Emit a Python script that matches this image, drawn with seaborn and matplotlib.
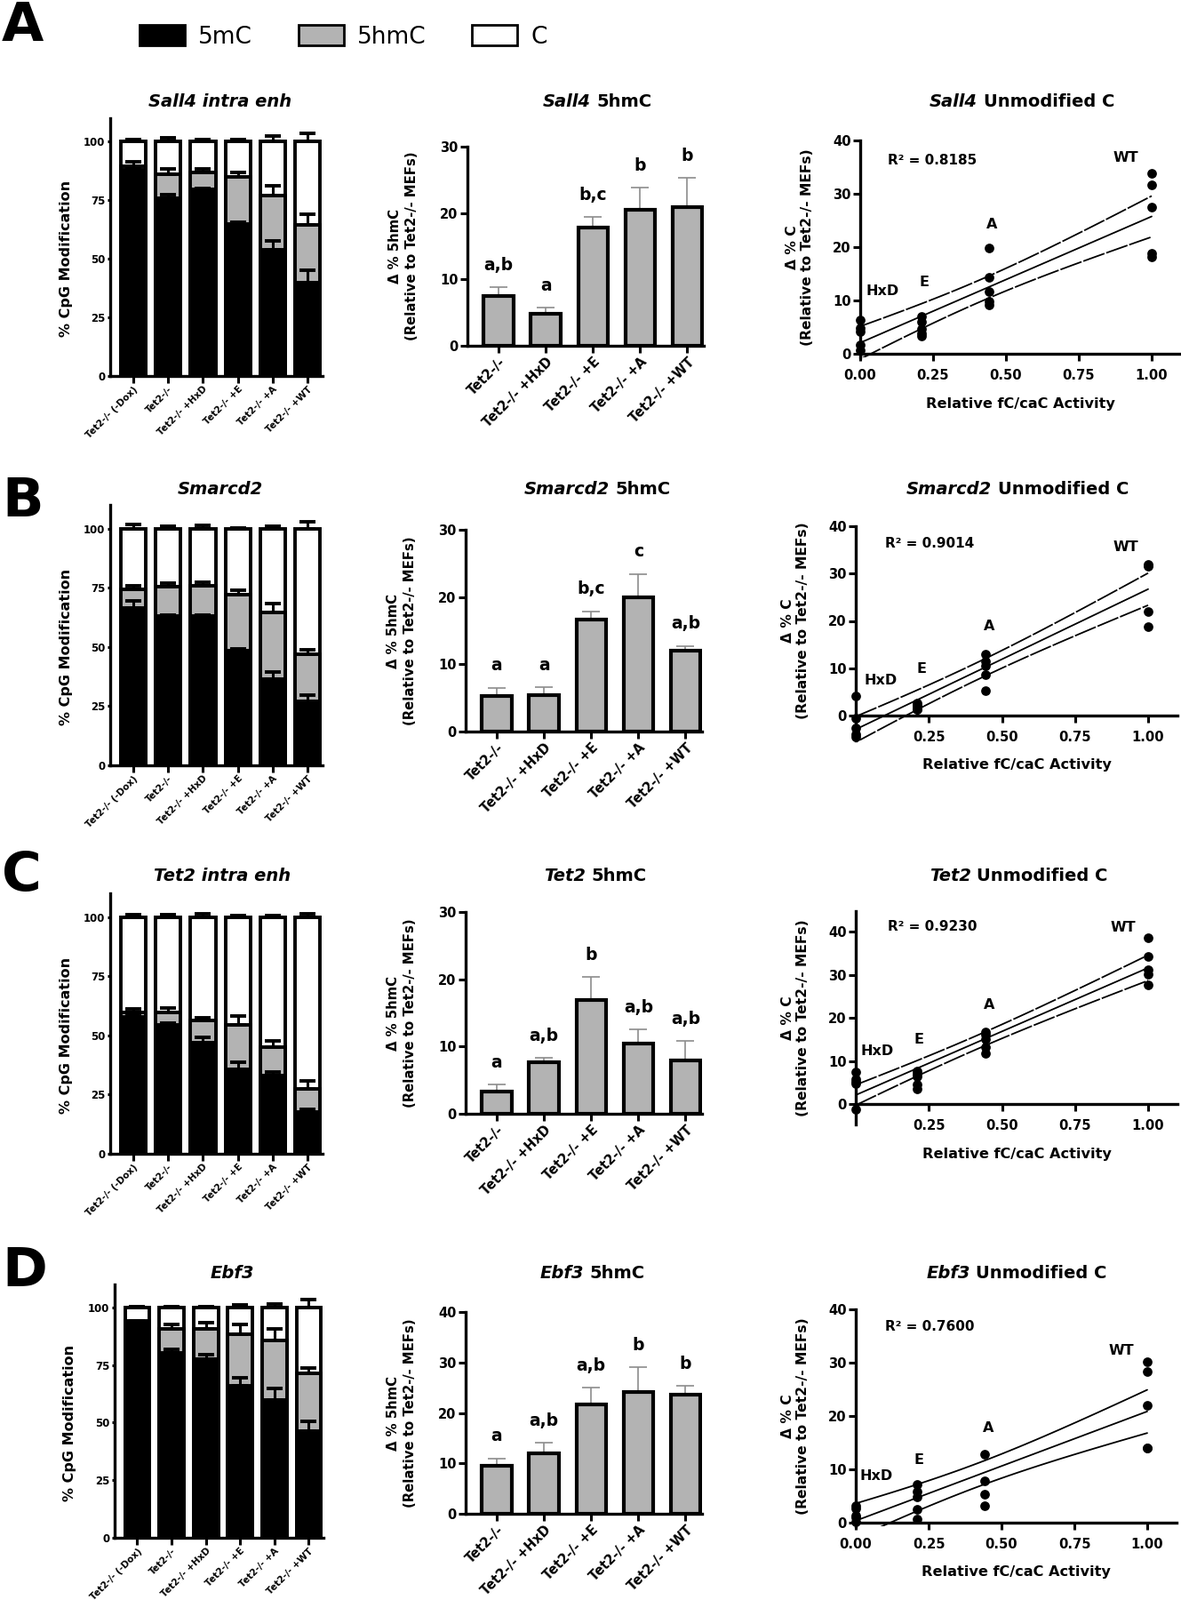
import numpy as np
import pandas as pd
import seaborn as sns
import matplotlib
matplotlib.use("Agg")
from matplotlib import pyplot as plt
from matplotlib.patches import Patch

sns.set_style("ticks")
plt.rcParams['font.family'] = ['DejaVu Sans']
plt.rcParams['font.weight'] = 'bold'
plt.rcParams['axes.linewidth'] = 2.4
plt.rcParams['xtick.major.width'] = 2.2
plt.rcParams['ytick.major.width'] = 2.2
for key in ('text.color', 'axes.labelcolor', 'axes.edgecolor', 'xtick.color', 'ytick.color'):
    plt.rcParams[key] = 'black'

W, H = 1329, 1800
GRAY = '#b3b3b3'

# ---------------------------------------------------------------- data
stack_groups = ["Tet2-/- (-Dox)", "Tet2-/-", "Tet2-/- +HxD", "Tet2-/- +E", "Tet2-/- +A", "Tet2-/- +WT"]
hmc_groups = ["Tet2-/-", "Tet2-/- +HxD", "Tet2-/- +E", "Tet2-/- +A", "Tet2-/- +WT"]
activity = [0.0, 0.21, 0.443, 1.0]
activity_names = ["HxD", "E", "A", "WT"]

genes = ["Sall4", "Smarcd2", "Tet2", "Ebf3"]
left_titles = ["Sall4 intra enh", "Smarcd2", "Tet2 intra enh", "Ebf3"]
r2_values = ["0.8185", "0.9014", "0.9230", "0.7600"]

# % CpG modification (stacked): 5mC, 5hmC, and the error of each segment
sall4_5mc = [88, 76, 79.6, 65, 54, 40]
sall4_5mc_err = [0.5, 1.5, 0.5, 0.5, 3.5, 5]
sall4_5hmc = [1.5, 10.2, 7.4, 20, 23, 24.5]
sall4_5hmc_err = [2, 2, 1.2, 2, 4, 4.5]
sall4_c_err = [0.8, 1.5, 1.0, 0.9, 2.4, 3.4]

smarcd2_5mc = [66.5, 63, 63, 48.5, 36.5, 27]
smarcd2_5mc_err = [3, 0.5, 0.5, 0.5, 3, 2.7]
smarcd2_5hmc = [8, 12.5, 13, 23.5, 28, 20]
smarcd2_5hmc_err = [1.5, 1.4, 1.3, 2, 4, 1.8]
smarcd2_c_err = [1.9, 1.1, 1.5, 0.3, 1.1, 2.9]

tet2_5mc = [58, 54.5, 47.1, 35.7, 33, 17.7]
tet2_5mc_err = [0.5, 0.8, 2, 2.8, 1.5, 1.2]
tet2_5hmc = [1.8, 5.1, 9.1, 18.8, 12, 9.8]
tet2_5hmc_err = [1.5, 1.8, 1.3, 3.8, 2.7, 3.2]
tet2_c_err = [0.9, 1.0, 1.5, 0.6, 0.6, 1.5]

ebf3_5mc = [93.5, 80.3, 77.6, 66, 60, 46.3]
ebf3_5mc_err = [0.3, 1.5, 2, 3.4, 5, 4.2]
ebf3_5hmc = [0.5, 10.3, 13.2, 22.5, 25.5, 25]
ebf3_5hmc_err = [0.3, 2.2, 2.6, 4, 5.3, 2.4]
ebf3_c_err = [0.4, 0.4, 0.4, 1, 1.7, 3.5]

# delta % 5hmC relative to Tet2-/- MEFs (mean, SD, letters)
sall4_d5hmc = [7.5, 4.8, 17.8, 20.5, 20.9]
sall4_d5hmc_sd = [1.3, 0.9, 1.6, 3.3, 4.4]
sall4_letters = ["a,b", "a", "b,c", "b", "b"]

smarcd2_d5hmc = [5.3, 5.4, 16.7, 20.0, 12.0]
smarcd2_d5hmc_sd = [1.2, 1.2, 1.2, 3.4, 0.7]
smarcd2_letters = ["a", "a", "b,c", "c", "a,b"]

tet2_d5hmc = [3.35, 7.6, 16.9, 10.4, 7.9]
tet2_d5hmc_sd = [0.95, 0.7, 3.4, 2.1, 2.9]
tet2_letters = ["a", "a,b", "b", "a,b", "a,b"]

ebf3_d5hmc = [9.5, 12.0, 21.6, 24.2, 23.7]
ebf3_d5hmc_sd = [1.5, 2.1, 3.4, 4.8, 1.6]
ebf3_letters = ["a", "a,b", "a,b", "b", "b"]

# delta % C vs relative fC/caC activity (HxD, E, A, WT)
sall4_dc = [[6.3, 4.8, 4.2, 1.6, 0.6], [7.0, 6.0, 4.6, 3.9, 3.3],
            [19.8, 14.3, 11.6, 9.9, 9.1], [33.9, 31.6, 27.5, 18.9, 18.2]]
smarcd2_dc = [[4.1, -0.5, -2.7, -4.0, -4.6], [2.6, 2.2, 1.8, 1.4, 1.3],
              [13.0, 11.5, 10.6, 8.6, 5.2], [32.0, 31.8, 31.5, 21.9, 18.8]]
tet2_dc = [[7.4, 5.8, 5.2, 4.7, -1.2], [7.6, 7.0, 6.3, 4.5, 3.6],
           [16.7, 16.1, 15.0, 13.1, 11.8], [38.6, 34.3, 31.2, 30.1, 27.7]]
ebf3_dc = [[3.2, 2.6, 1.4, 1.0, 0.2], [7.2, 5.8, 4.9, 2.5, 0.7],
           [12.9, 7.8, 5.3, 3.1], [30.2, 28.4, 22.0, 14.0, 14.0]]

stacked = [
    (sall4_5mc, sall4_5mc_err, sall4_5hmc, sall4_5hmc_err, sall4_c_err),
    (smarcd2_5mc, smarcd2_5mc_err, smarcd2_5hmc, smarcd2_5hmc_err, smarcd2_c_err),
    (tet2_5mc, tet2_5mc_err, tet2_5hmc, tet2_5hmc_err, tet2_c_err),
    (ebf3_5mc, ebf3_5mc_err, ebf3_5hmc, ebf3_5hmc_err, ebf3_c_err),
]
hmc = [
    (sall4_d5hmc, sall4_d5hmc_sd, sall4_letters),
    (smarcd2_d5hmc, smarcd2_d5hmc_sd, smarcd2_letters),
    (tet2_d5hmc, tet2_d5hmc_sd, tet2_letters),
    (ebf3_d5hmc, ebf3_d5hmc_sd, ebf3_letters),
]
unmod = [sall4_dc, smarcd2_dc, tet2_dc, ebf3_dc]

# ---------------------------------------------------------------- layout (pixels)
layout = [
    dict(letter="A", letter_top=0, title_y=115, title_x=(248, 672, 1150),
         left=(124, 133, 363, 423), mid=(526, 165, 792, 389), mid_ymax=30,
         right=(968, 1296, 158, 398), rylim=(-0.7, 40), ryticks=[0, 10, 20, 30, 40],
         xzero=True, dashed=True,
         names_at=[(0.077, 11.8), (0.219, 13.5), (0.451, 24.2), (0.911, 36.8)], r2_at=(0.094, 36.3)),
    dict(letter="B", letter_top=535, title_y=551, title_x=(248, 672, 1145),
         left=(124, 568, 363, 861), mid=(524, 596, 790, 823), mid_ymax=30,
         right=(963, 1292, 592, 805), rylim=(-5.3, 40), ryticks=[0, 10, 20, 30, 40],
         xzero=False, dashed=True,
         names_at=[(0.085, 7.5), (0.225, 9.8), (0.456, 18.8), (0.924, 35.5)], r2_at=(0.1, 36.4)),
    dict(letter="C", letter_top=956, title_y=985, title_x=(250, 670, 1146),
         left=(124, 1005, 363, 1298), mid=(524, 1026, 790, 1253), mid_ymax=30,
         right=(963, 1292, 1048, 1242), rylim=(-4.7, 44.8), ryticks=[0, 10, 20, 30, 40],
         xzero=False, dashed=True,
         names_at=[(0.073, 12.2), (0.216, 15.0), (0.456, 22.9), (0.915, 41.0)], r2_at=(0.109, 41.2)),
    dict(letter="D", letter_top=1401, title_y=1433, title_x=(261, 667, 1144),
         left=(129, 1445, 364, 1730), mid=(524, 1476, 790, 1703), mid_ymax=40,
         right=(963, 1291, 1473, 1713), rylim=(-0.6, 40), ryticks=[0, 10, 20, 30, 40],
         xzero=True, dashed=False,
         names_at=[(0.070, 8.7), (0.216, 11.7), (0.454, 17.7), (0.912, 32.2)], r2_at=(0.1, 36.8)),
]

T975 = {14: 2.145, 15: 2.131, 16: 2.120, 17: 2.110, 18: 2.101, 19: 2.093, 20: 2.086, 21: 2.080}

fig = plt.figure(figsize=(W / 100, H / 100), dpi=100)
renderer = fig.canvas.get_renderer()


def px_axes(x0, y_top, x1, y_bot):
    return fig.add_axes([x0 / W, 1 - y_bot / H, (x1 - x0) / W, (y_bot - y_top) / H])


def title_parts(cx, cy, parts, size=14):
    texts = [fig.text(0, 1 - cy / H, t, fontsize=size, style=st, va='center', ha='left')
             for t, st in parts]
    widths = [t.get_window_extent(renderer).width for t in texts]
    gap = 0.33 * size * 100 / 72
    x = cx - (sum(widths) + gap * (len(texts) - 1)) / 2
    for t, w in zip(texts, widths):
        t.set_x(x / W)
        x += w + gap


def regression_band(groups):
    xs = np.concatenate([[a] * len(g) for a, g in zip(activity, groups)])
    ys = np.concatenate(groups)
    slope, icpt = np.polyfit(xs, ys, 1)
    n = len(xs)
    resid = ys - (slope * xs + icpt)
    s = np.sqrt((resid ** 2).sum() / (n - 2))
    sxx = ((xs - xs.mean()) ** 2).sum()
    xx = np.linspace(0, 1, 60)
    fit = slope * xx + icpt
    half = T975[n - 2] * s * np.sqrt(1 / n + (xx - xs.mean()) ** 2 / sxx)
    return xs, ys, xx, fit, fit - half, fit + half


for row, lay in enumerate(layout):
    gene = genes[row]

    # ---------------- stacked % CpG modification
    m, m_err, h, h_err, c_err = stacked[row]
    frame = pd.DataFrame({"group": stack_groups, "mc": m,
                          "hmc_top": np.add(m, h), "total": 100.0})
    ax = px_axes(*lay["left"])
    for col, colour in (("total", "white"), ("hmc_top", GRAY), ("mc", "black")):
        sns.barplot(data=frame, x="group", y=col, color=colour, saturation=1,
                    edgecolor="black", linewidth=2.8, width=0.72, ax=ax)
    xpos = np.arange(len(stack_groups))
    for tops, errs in ((frame["mc"], m_err), (frame["hmc_top"], h_err), (frame["total"], c_err)):
        ax.errorbar(xpos, tops, yerr=[np.zeros(len(errs)), errs], fmt="none",
                    ecolor="black", elinewidth=2.2, capsize=6.5, capthick=2.8, zorder=5)
    ax.set_xlim(-0.66, 5.43)
    ax.set_ylim(0, 110)
    ax.set_yticks([0, 25, 50, 75, 100])
    ax.tick_params(axis="y", labelsize=8.5, length=2, pad=2)
    ax.tick_params(axis="x", labelsize=7.5, length=5.5, pad=1.5)
    ax.set_xticks(xpos)
    ax.set_xticklabels(stack_groups, rotation=45, ha="right", rotation_mode="anchor")
    ax.set_xlabel("")
    ax.set_ylabel("")
    sns.despine(ax=ax)
    x0, yt, x1, yb = lay["left"]
    fig.text((x0 - 50) / W, 1 - (yb - (yb - yt) * 50 / 110) / H, "% CpG Modification",
             rotation=90, ha="center", va="center", fontsize=11.5)
    title_parts(lay["title_x"][0], lay["title_y"], [(left_titles[row], "italic")])

    # ---------------- delta % 5hmC bars
    vals, sds, letters = hmc[row]
    ax = px_axes(*lay["mid"])
    sns.barplot(x=hmc_groups, y=vals, color=GRAY, saturation=1, edgecolor="black",
                linewidth=3.0, width=0.63, ax=ax, zorder=2)
    xpos = np.arange(len(hmc_groups))
    ax.errorbar(xpos, vals, yerr=[np.zeros(len(sds)), sds], fmt="none", ecolor="#8c8c8c",
                elinewidth=1.2, capsize=7, capthick=1.2, zorder=1)
    for i, (v, sd, let) in enumerate(zip(vals, sds, letters)):
        ax.annotate(let, (i, v + sd), xytext=(0, 14), textcoords="offset points",
                    ha="center", va="baseline", fontsize=13.5, annotation_clip=False)
    ax.set_xlim(-0.66, 4.35)
    ax.set_ylim(0, lay["mid_ymax"])
    ax.set_yticks(np.arange(0, lay["mid_ymax"] + 1, 10))
    ax.tick_params(axis="y", labelsize=10.5, length=5.5, pad=2)
    ax.tick_params(axis="x", labelsize=10.5, length=5.5, pad=2)
    ax.set_xticks(xpos)
    ax.set_xticklabels(hmc_groups, rotation=45, ha="right", rotation_mode="anchor")
    sns.despine(ax=ax)
    x0, yt, x1, yb = lay["mid"]
    fig.text((x0 - 72) / W, 1 - ((yt + yb) / 2) / H,
             "Δ % 5hmC\n(Relative to Tet2-/- MEFs)", rotation=90, ha="center",
             va="center", ma="center", fontsize=10.7, linespacing=1.3)
    title_parts(lay["title_x"][1], lay["title_y"], [(gene, "italic"), ("5hmC", "normal")])

    # ---------------- delta % C vs activity
    groups = unmod[row]
    xs, ys, xx, fit, lo, hi = regression_band(groups)
    rx0, rx1, ry40, ry0 = lay["right"]
    ppu = (ry0 - ry40) / 40.0
    ylo, yhi = lay["rylim"]
    ax = px_axes(rx0, ry0 - yhi * ppu, rx0 + (rx1 - rx0) * 1.1, ry0 - ylo * ppu)
    ls = (0, (14, 1.2)) if lay["dashed"] else "-"
    ax.plot(xx, fit, color="black", lw=1.3)
    ax.plot(xx, lo, color="black", lw=1.3, linestyle=ls)
    ax.plot(xx, hi, color="black", lw=1.3, linestyle=ls)
    sns.scatterplot(x=xs, y=ys, color="black", s=60, linewidth=0, ax=ax,
                    clip_on=False, zorder=5)
    for name, (tx, ty) in zip(activity_names, lay["names_at"]):
        ax.text(tx, ty, name, ha="center", va="center", fontsize=11.5)
    ax.text(lay["r2_at"][0], lay["r2_at"][1], "R² = " + r2_values[row],
            ha="left", va="center", fontsize=11)
    ax.set_xlim(0, 1.1)
    ax.set_ylim(ylo, yhi)
    ax.spines["bottom"].set_position(("data", 0))
    sns.despine(ax=ax)
    xt = [0, 0.25, 0.5, 0.75, 1.0] if lay["xzero"] else [0.25, 0.5, 0.75, 1.0]
    ax.set_xticks(xt)
    ax.set_xticklabels([f"{t:.2f}" for t in xt])
    ax.set_yticks(lay["ryticks"])
    ax.tick_params(axis="both", labelsize=10.6, length=5.5)
    ax.tick_params(axis="x", pad=6.5)
    ax.tick_params(axis="y", pad=2)
    fig.text((rx0 - 68) / W, 1 - ((ry40 + ry0) / 2) / H,
             "Δ % C\n(Relative to Tet2-/- MEFs)", rotation=90, ha="center",
             va="center", ma="center", fontsize=11.2, linespacing=1.2)
    fig.text((rx0 + (rx1 - rx0) * 0.55) / W, 1 - (ry0 + 56) / H,
             "Relative fC/caC Activity", ha="center", va="center", fontsize=11.6)
    title_parts(lay["title_x"][2], lay["title_y"], [(gene, "italic"), ("Unmodified C", "normal")])

    fig.text(2 / W, 1 - lay["letter_top"] / H, lay["letter"], fontsize=44,
             ha="left", va="top")

handles = [Patch(facecolor=c, edgecolor="black", linewidth=2) for c in ("black", GRAY, "white")]
fig.legend(handles, ["5mC", "5hmC", "C"], loc="upper left",
           bbox_to_anchor=(157 / W, 1 - 28 / H), ncol=3, frameon=False,
           prop={"size": 19, "weight": "normal"}, handlelength=1.93, handleheight=0.98,
           handletextpad=0.57, columnspacing=1.97, borderpad=0, borderaxespad=0)

fig.savefig("out.png", dpi=100)
